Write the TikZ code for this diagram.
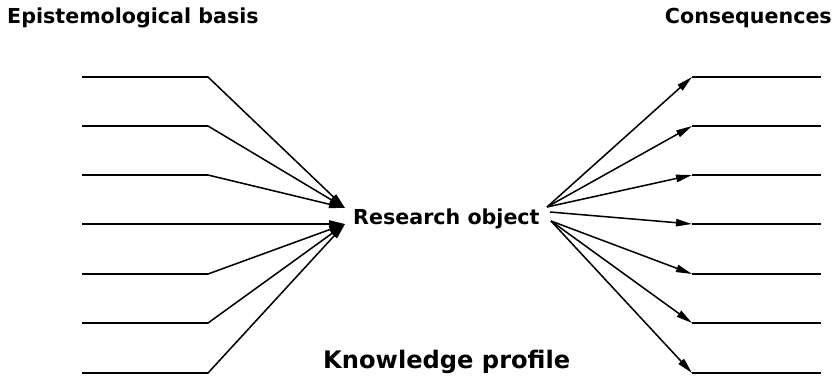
\documentclass[tikz,border=0pt]{standalone}
\usepackage{fontspec}
\setsansfont{DejaVu Sans}
\usetikzlibrary{arrows.meta}

\begin{document}
\begin{tikzpicture}[x=0.03cm,y=-0.03cm,font=\sffamily\bfseries,
    lbl/.style={inner sep=0pt,font=\sffamily\bfseries\fontsize{17.6}{20}\selectfont},
    feed/.style={line width=1.3pt,-{Triangle[length=4.8mm,width=2.2mm]}},
    rail/.style={line width=1.3pt}]
      \useasboundingbox (0,0) rectangle (839,378);
      \node[lbl, anchor=base west] (basis) at (7,23) {Epistemological basis};
      \node[lbl, anchor=base east] (conseq) at (832,23) {Consequences};
      \node[lbl, anchor=base west] (object) at (353,224) {Research object};
      \node[lbl, anchor=base west, font=\sffamily\bfseries\fontsize{20.6}{24}\selectfont] (profile) at (323,368) {Knowledge profile};
      % hubs next to the research object
      \coordinate (inTop) at (345,208);
      \coordinate (inLow) at (345,224);
      \coordinate (outTop) at (547,207);
      \coordinate (outMid) at (550,212);
      \coordinate (outLow) at (551,221);
      % left side
      \coordinate (l1) at (82,77);   \coordinate (k1) at (208,77);
      \coordinate (l2) at (82,126);  \coordinate (k2) at (208,126);
      \coordinate (l3) at (82,175);  \coordinate (k3) at (208,175);
      \coordinate (l4) at (82,224);  \coordinate (k4) at (208,224);
      \coordinate (l5) at (82,274);  \coordinate (k5) at (208,274);
      \coordinate (l6) at (82,323);  \coordinate (k6) at (208,323);
      \coordinate (l7) at (82,373);  \coordinate (k7) at (208,373);
      \draw[feed] (l1) -- (k1) -- (inTop);
      \draw[feed] (l2) -- (k2) -- (inTop);
      \draw[feed] (l3) -- (k3) -- (inTop);
      \draw[feed] (l4) -- (k4) -- (inLow);
      \draw[feed] (l5) -- (k5) -- (inLow);
      \draw[feed] (l6) -- (k6) -- (inLow);
      \draw[feed] (l7) -- (k7) -- (inLow);
      % right side
      \coordinate (r1) at (692,77);   \coordinate (e1) at (821,77);
      \coordinate (r2) at (692,126);  \coordinate (e2) at (821,126);
      \coordinate (r3) at (692,175);  \coordinate (e3) at (821,175);
      \coordinate (r4) at (692,224);  \coordinate (e4) at (821,224);
      \coordinate (r5) at (692,274);  \coordinate (e5) at (821,274);
      \coordinate (r6) at (692,323);  \coordinate (e6) at (821,323);
      \coordinate (r7) at (692,373);  \coordinate (e7) at (821,373);
      \draw[feed] (outTop) -- (r1);
      \draw[feed] (outTop) -- (r2);
      \draw[feed] (outTop) -- (r3);
      \draw[feed] (outMid) -- (r4);
      \draw[feed] (outLow) -- (r5);
      \draw[feed] (outLow) -- (r6);
      \draw[feed] (outLow) -- (r7);
      \draw[rail] (r1) -- (e1);
      \draw[rail] (r2) -- (e2);
      \draw[rail] (r3) -- (e3);
      \draw[rail] (r4) -- (e4);
      \draw[rail] (r5) -- (e5);
      \draw[rail] (r6) -- (e6);
      \draw[rail] (r7) -- (e7);
    \end{tikzpicture}
\end{document}
